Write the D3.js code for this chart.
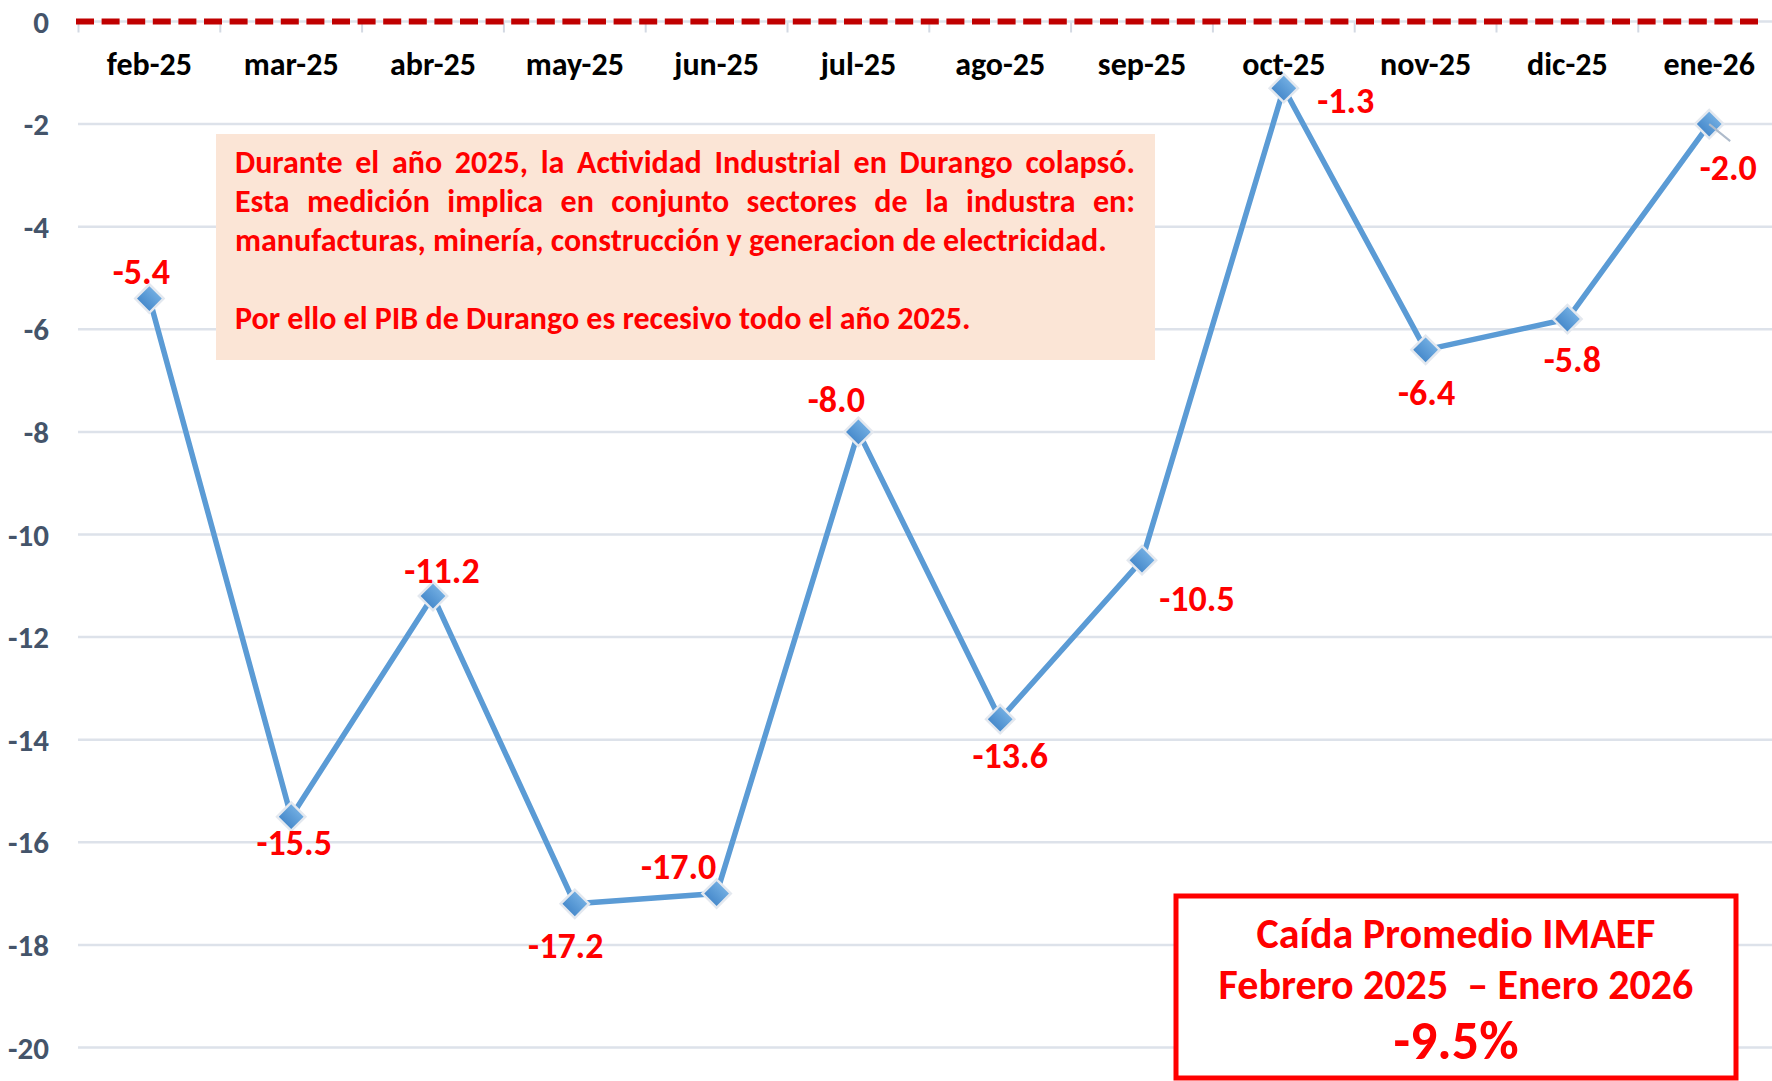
<!DOCTYPE html>
<html>
<head>
<meta charset="utf-8">
<script src="https://cdn.jsdelivr.net/npm/d3@7"></script>
<style>
  body { margin: 0; background: #fff; overflow: hidden; }
  #chart { position: relative; width: 1772px; height: 1081px; }
  svg text { font-family: Carlito, Lato, sans-serif; font-weight: 700; }
  #nota {
    position: absolute; left: 216px; top: 134px; width: 900px; height: 217px;
    padding: 9px 20px 0 19px; background: #FBE5D6;
    font-family: Carlito, Lato, sans-serif; font-weight: 700; font-size: 32px;
    line-height: 39px; color: #FF0000;
  }
  #nota div { white-space: nowrap; }
  #nota .just { text-align: justify; text-align-last: justify; white-space: normal; }
</style>
</head>
<body>
<div id="chart"></div>
<script>
// datos IMAEF Durango, variacion anual (%)
const meses = ["feb-25", "mar-25", "abr-25", "may-25", "jun-25", "jul-25",
               "ago-25", "sep-25", "oct-25", "nov-25", "dic-25", "ene-26"];
const variacion = [-5.4, -15.5, -11.2, -17.2, -17.0, -8.0, -13.6, -10.5, -1.3, -6.4, -5.8, -2.0];
const ejeY = [0, -2, -4, -6, -8, -10, -12, -14, -16, -18, -20];

const notaLineas = [
  "Durante el año 2025, la Actividad Industrial en Durango colapsó.",
  "Esta medición implica en conjunto sectores de la industra en:",
  "manufacturas, minería, construcción y generacion de electricidad.",
  "",
  "Por ello el PIB de Durango es recesivo todo el año 2025."
];
const resumen = ["Caída Promedio IMAEF", "Febrero 2025  – Enero 2026", "-9.5%"];

// donde va cada etiqueta respecto a su marcador
const etiquetaDx = [-8, 3, 9, -9, -38, -22, 10, 55, 62, 1, 5, 19];
const etiquetaDy = [-27, 26, -25, 42, -27, -32, 37, 39, 13, 43, 41, 44];

const w = 1772, h = 1081;

const svg = d3.select("#chart").append("svg")
    .attr("width", w)
    .attr("height", h)
    .style("position", "absolute")
    .style("left", 0).style("top", 0);

const x = d3.scaleBand()
    .domain(meses)
    .range([78.5, 78.5 + 12 * 141.8])
    .padding(0);

const y = d3.scaleLinear()
    .domain([0, -20])
    .range([21.5, 1047.5]);

// rejilla
svg.append("g")
    .selectAll("line")
    .data(ejeY.filter(d => d !== 0))
    .join("line")
    .attr("x1", 78).attr("x2", w)
    .attr("y1", d => y(d)).attr("y2", d => y(d))
    .attr("stroke", "#DDE2EA")
    .attr("stroke-width", 2.5);

// marcas del eje de categorias
svg.append("g")
    .selectAll("line")
    .data(meses.concat(["_fin"]))
    .join("line")
    .attr("x1", (d, i) => x.range()[0] + i * x.bandwidth())
    .attr("x2", (d, i) => x.range()[0] + i * x.bandwidth())
    .attr("y1", y(0)).attr("y2", y(0) + 11)
    .attr("stroke", "#D3D9E3")
    .attr("stroke-width", 2);

svg.append("line")
    .attr("x1", 78).attr("x2", w)
    .attr("y1", y(0)).attr("y2", y(0))
    .attr("stroke", "#DDE2EA")
    .attr("stroke-width", 2.5);

// linea de cero punteada
svg.append("line")
    .attr("x1", 76).attr("x2", 1758)
    .attr("y1", y(0)).attr("y2", y(0))
    .attr("stroke", "#C00000")
    .attr("stroke-width", 6)
    .attr("stroke-dasharray", "18,7.6");

// etiquetas eje y
svg.append("g")
    .selectAll("text")
    .data(ejeY)
    .join("text")
    .attr("x", 49)
    .attr("y", d => y(d))
    .attr("text-anchor", "end")
    .attr("dominant-baseline", "central")
    .attr("fill", "#44546A")
    .style("font-size", "31px")
    .text(d => d);

// etiquetas de meses
svg.append("g")
    .selectAll("text")
    .data(meses)
    .join("text")
    .attr("x", d => x(d) + x.bandwidth() / 2)
    .attr("y", 64)
    .attr("text-anchor", "middle")
    .attr("dominant-baseline", "central")
    .attr("fill", "#000")
    .style("font-size", "32px")
    .text(d => d);

const puntos = meses.map((m, i) => ({ mes: m, v: variacion[i], i: i }));

svg.append("path")
    .datum(puntos)
    .attr("fill", "none")
    .attr("stroke", "#5B9BD5")
    .attr("stroke-width", 5.5)
    .attr("stroke-linejoin", "round")
    .attr("d", d3.line()
        .x(d => x(d.mes) + x.bandwidth() / 2)
        .y(d => y(d.v)));

const defs = svg.append("defs");
const grad = defs.append("linearGradient")
    .attr("id", "rombo").attr("x1", 0).attr("y1", 0).attr("x2", 0).attr("y2", 1);
grad.append("stop").attr("offset", "0%").attr("stop-color", "#72AEE2");
grad.append("stop").attr("offset", "100%").attr("stop-color", "#4689CB");

const rombo = d3.symbol(d3.symbolSquare, 400);

svg.append("g")
    .selectAll("path")
    .data(puntos)
    .join("path")
    .attr("d", rombo)
    .attr("transform", d => `translate(${x(d.mes) + x.bandwidth() / 2},${y(d.v)}) rotate(45)`)
    .attr("fill", "url(#rombo)")
    .attr("stroke", "#E3E8EF")
    .attr("stroke-width", 2.5);

// linea guia de la ultima etiqueta
const ult = puntos[puntos.length - 1];
svg.append("line")
    .attr("x1", x(ult.mes) + x.bandwidth() / 2)
    .attr("y1", y(ult.v))
    .attr("x2", x(ult.mes) + x.bandwidth() / 2 + 21)
    .attr("y2", y(ult.v) + 17)
    .attr("stroke", "#AEBBCB")
    .attr("stroke-width", 2);

svg.append("g")
    .selectAll("text")
    .data(puntos)
    .join("text")
    .attr("x", d => x(d.mes) + x.bandwidth() / 2 + etiquetaDx[d.i])
    .attr("y", d => y(d.v) + etiquetaDy[d.i])
    .attr("text-anchor", "middle")
    .attr("dominant-baseline", "central")
    .attr("fill", "#FF0000")
    .style("font-size", "36px")
    .text(d => d.v.toFixed(1));

// cuadro de resumen
svg.append("rect")
    .attr("x", 1176).attr("y", 896)
    .attr("width", 560).attr("height", 182)
    .attr("fill", "#fff")
    .attr("stroke", "#FF0000")
    .attr("stroke-width", 5);

svg.append("g")
    .selectAll("text")
    .data(resumen)
    .join("text")
    .attr("x", 1456)
    .attr("y", (d, i) => [933, 984, 1041][i])
    .attr("text-anchor", "middle")
    .attr("dominant-baseline", "central")
    .attr("fill", "#FF0000")
    .style("white-space", "pre")
    .style("font-size", (d, i) => i === 2 ? "54px" : "42px")
    .text(d => d);

// nota explicativa
d3.select("#chart").append("div")
    .attr("id", "nota")
    .selectAll("div")
    .data(notaLineas)
    .join("div")
    .attr("class", (d, i) => i < 2 ? "just" : null)
    .html(d => d === "" ? "&nbsp;" : d);
</script>
</body>
</html>
